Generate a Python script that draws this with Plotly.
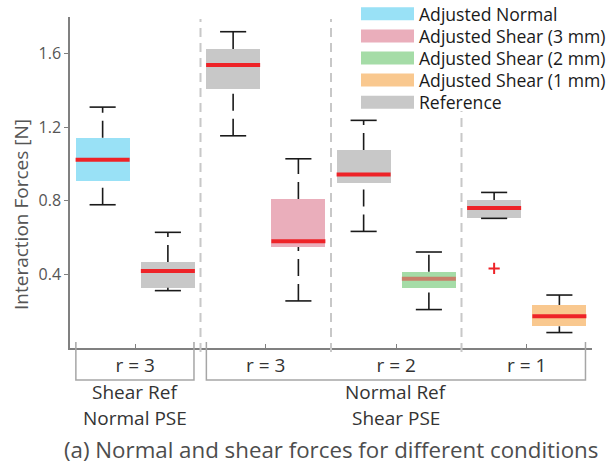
import plotly.graph_objects as go

# ---------------- data ----------------
group_ticks = ["r = 3", "r = 3", "r = 2", "r = 1"]          # x tick labels (one per condition)
box_group = [1, 1, 2, 2, 3, 3, 4, 4]                        # condition index of each box
box_side = [-1, 1, -1, 1, -1, 1, -1, 1]                     # left / right box inside a condition
box_series = ["Adjusted Normal", "Reference",
              "Reference", "Adjusted Shear (3 mm)",
              "Reference", "Adjusted Shear (2 mm)",
              "Reference", "Adjusted Shear (1 mm)"]
upper_whisker = [1.310, 0.629, 1.720, 1.029, 1.238, 0.522, 0.846, 0.288]
q3 = [1.143, 0.468, 1.626, 0.810, 1.077, 0.414, 0.805, 0.234]
median = [1.024, 0.419, 1.539, 0.580, 0.944, 0.376, 0.761, 0.172]
q1 = [0.910, 0.327, 1.411, 0.549, 0.897, 0.327, 0.705, 0.118]
lower_whisker = [0.779, 0.312, 1.154, 0.256, 0.634, 0.209, 0.705, 0.084]
outlier_box = [6]          # index of box owning each outlier
outlier_value = [0.433]

legend_series = ["Adjusted Normal", "Adjusted Shear (3 mm)", "Adjusted Shear (2 mm)",
                 "Adjusted Shear (1 mm)", "Reference"]
super_groups = [("Shear Ref", "Normal PSE", 1, 1), ("Normal Ref", "Shear PSE", 2, 4)]
caption = "(a) Normal and shear forces for different conditions"
y_title = "Interaction Forces [N]"

# ---------------- style ----------------
series_color = {
    "Adjusted Normal": "#99e1f6",
    "Adjusted Shear (3 mm)": "#eaaebb",
    "Adjusted Shear (2 mm)": "#a5dca7",
    "Adjusted Shear (1 mm)": "#f9c88f",
    "Reference": "#c8c8c8",
}
median_color = {"Adjusted Shear (2 mm)": "#c8806a"}
FONT = "Open Sans"
OFFSET = 0.25
BOX_W = 0.414
CAP_W = 0.20

pos = [g + s * OFFSET for g, s in zip(box_group, box_side)]

fig = go.Figure()

# box bodies
fig.add_trace(go.Bar(
    x=pos, y=[b - a for a, b in zip(q1, q3)], base=q1, width=BOX_W,
    marker=dict(color=[series_color[s] for s in box_series], line=dict(width=0)),
    showlegend=False, hoverinfo="skip"))

# whiskers (dashed, drawn from lower to higher value)
wx, wy = [], []
for p, lo, a, b, hi in zip(pos, lower_whisker, q1, q3, upper_whisker):
    if a > lo:
        wx += [p, p, None]
        wy += [lo, a, None]
    if hi > b:
        wx += [p, p, None]
        wy += [b, hi, None]
fig.add_trace(go.Scatter(x=wx, y=wy, mode="lines",
                         line=dict(color="#1a1a1a", width=1.6, dash="17px,8px"),
                         showlegend=False, hoverinfo="skip"))

# whisker caps
cx, cy = [], []
for p, lo, hi in zip(pos, lower_whisker, upper_whisker):
    for v in (lo, hi):
        cx += [p - CAP_W / 2, p + CAP_W / 2, None]
        cy += [v, v, None]
fig.add_trace(go.Scatter(x=cx, y=cy, mode="lines",
                         line=dict(color="#1a1a1a", width=1.6),
                         showlegend=False, hoverinfo="skip"))

# medians
for p, m, s in zip(pos, median, box_series):
    fig.add_trace(go.Scatter(x=[p - BOX_W / 2, p + BOX_W / 2], y=[m, m], mode="lines",
                             line=dict(color=median_color.get(s, "#ee2328"), width=4),
                             showlegend=False, hoverinfo="skip"))

# outliers
fig.add_trace(go.Scatter(x=[pos[i] for i in outlier_box], y=outlier_value, mode="markers",
                         marker=dict(symbol="cross-thin", size=8,
                                     line=dict(color="#ee2328", width=2)),
                         showlegend=False, hoverinfo="skip"))

# pixel helpers (plot area: left 70, top 17, 522 x 331)
L, T, W, H = 70, 17, 522, 331
def px_x(v):
    return (v - L) / W
def px_y(v):
    return (T + H - v) / H

shapes = []
annotations = []
# dashed separators between conditions
for g in range(1, len(group_ticks)):
    shapes.append(dict(type="line", xref="x", yref="paper", x0=g + 0.5, x1=g + 0.5,
                       y0=px_y(352), y1=px_y(19), layer="above",
                       line=dict(color="#c8c8c8", width=2, dash="9px,6px")))

# brackets below axis + super-group labels
for top, bottom, g0, g1 in super_groups:
    xa, xb = g0 - 0.455, g1 + 0.45
    ya, yb = px_y(342), px_y(380)
    shapes.append(dict(type="path", xref="x", yref="paper",
                       path=f"M {xa},{ya} L {xa},{yb} L {xb},{yb} L {xb},{ya}",
                       line=dict(color="#a6a6a6", width=1.5)))
    xm = (g0 + g1) / 2
    for txt, yy in ((top, 392), (bottom, 418)):
        annotations.append(dict(x=xm, xref="x", y=px_y(yy), yref="paper", text=txt,
                                xanchor="center", yanchor="middle", showarrow=False,
                                font=dict(family=FONT, size=19, color="#333333")))

# legend (custom, wide patches)
shapes.append(dict(type="rect", xref="paper", yref="paper",
                   x0=px_x(357), x1=px_x(608), y0=px_y(111), y1=px_y(2),
                   fillcolor="white", line=dict(width=0), layer="above"))
for i, name in enumerate(legend_series):
    yc = 13.8 + i * 22.1
    shapes.append(dict(type="rect", xref="paper", yref="paper",
                       x0=px_x(361), x1=px_x(414), y0=px_y(yc + 6.5), y1=px_y(yc - 6.5),
                       fillcolor=series_color[name], line=dict(width=0), layer="above"))
    annotations.append(dict(x=px_x(417), y=px_y(yc), xref="paper", yref="paper",
                            xanchor="left", yanchor="middle", text=name, showarrow=False,
                            font=dict(family=FONT, size=17.6, color="#1a1a1a")))

# y axis title & caption
annotations.append(dict(x=px_x(21), y=px_y(215), xref="paper", yref="paper",
                        xanchor="center", yanchor="middle",
                        text=y_title, textangle=-90, showarrow=False,
                        font=dict(family=FONT, size=19, color="#555555")))
annotations.append(dict(x=px_x(331), y=px_y(450), xref="paper", yref="paper",
                        xanchor="center", yanchor="middle",
                        text=caption, showarrow=False,
                        font=dict(family=FONT, size=22.3, color="#4d4d4d")))

fig.update_layout(
    width=608, height=466,
    margin=dict(l=L, r=608 - L - W, t=T, b=466 - T - H, autoexpand=False),
    plot_bgcolor="white", paper_bgcolor="white",
    shapes=shapes, annotations=annotations,
    bargap=0,
    xaxis=dict(range=[0.5, 4.5], tickvals=[1, 2, 3, 4], ticktext=group_ticks,
               ticks="inside", ticklen=4, tickcolor="#808080", tickwidth=1.2,
               showline=True, linecolor="#808080", linewidth=1.5,
               showgrid=False, zeroline=False, ticklabelstandoff=-1,
               tickfont=dict(family=FONT, size=19, color="#333333")),
    yaxis=dict(range=[0, 1.8], tickvals=[0.4, 0.8, 1.2, 1.6],
               ticktext=["0.4", "0.8", "1.2", "1.6"],
               ticks="outside", ticklen=4, tickcolor="#808080", tickwidth=1.2,
               showline=True, linecolor="#808080", linewidth=1.5,
               showgrid=False, zeroline=False,
               tickfont=dict(family=FONT, size=16, color="#555555")),
    showlegend=False,
)

fig.write_html("out.html", config={"displayModeBar": False},
               post_script="document.body.style.margin='0';")
